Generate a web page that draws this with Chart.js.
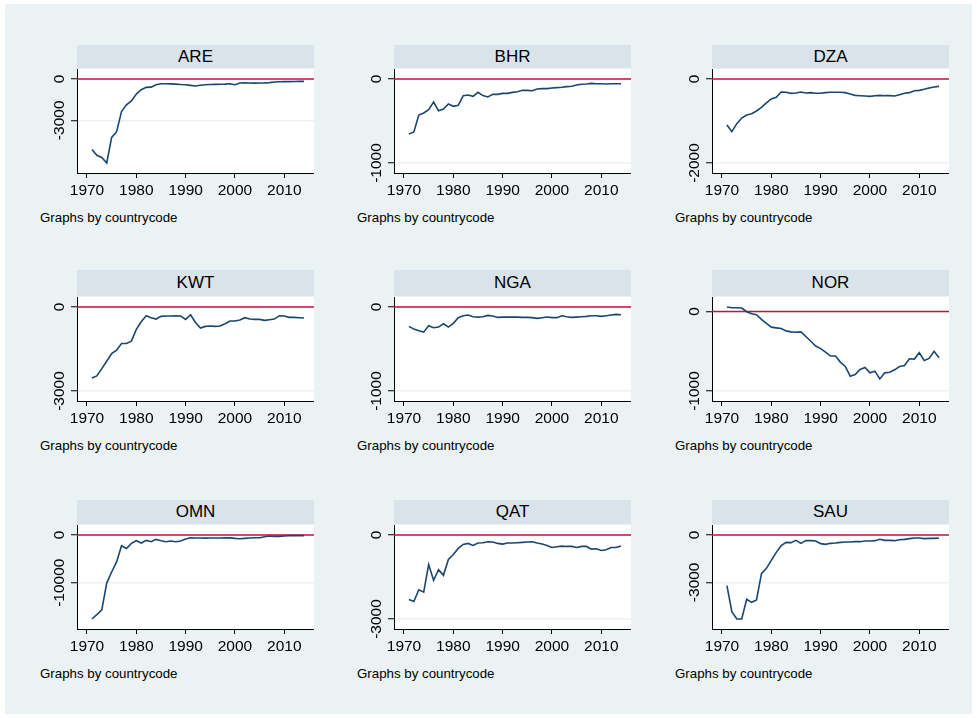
<!DOCTYPE html>
<html>
<head>
<meta charset="utf-8">
<script src="https://cdn.jsdelivr.net/npm/chart.js@4/dist/chart.umd.min.js"></script>
<style>
  html, body { margin: 0; padding: 0; background: #fff; }
  #page { position: relative; width: 977px; height: 718px; overflow: hidden; background: #fff;
          font-family: "Liberation Sans", Arial, Helvetica, sans-serif; }
  #region { position: absolute; left: 5px; top: 4px; width: 967px; height: 710px; background: #EAF2F3; }
  .band { position: absolute; background: #D9E3E9; color: #000; font-size: 17px; text-align: center; }
  .note { position: absolute; font-size: 13.3px; line-height: 15px; color: #000; white-space: nowrap; }
  canvas { position: absolute; }
</style>
</head>
<body>
<div id="page"><div id="region"></div></div>
<script>
// ---- data ----
const years = [1971, 1972, 1973, 1974, 1975, 1976, 1977, 1978, 1979, 1980,
               1981, 1982, 1983, 1984, 1985, 1986, 1987, 1988, 1989, 1990,
               1991, 1992, 1993, 1994, 1995, 1996, 1997, 1998, 1999, 2000,
               2001, 2002, 2003, 2004, 2005, 2006, 2007, 2008, 2009, 2010,
               2011, 2012, 2013, 2014];

const countries = ['ARE', 'BHR', 'DZA', 'KWT', 'NGA', 'NOR', 'OMN', 'QAT', 'SAU'];

const are = [-5120, -5540, -5700, -6100, -4240, -3830, -2370, -1880, -1590, -1100,
             -780, -610, -590, -415, -340, -350, -355, -370, -400, -420,
             -460, -510, -450, -420, -400, -390, -380, -370, -350, -415,
             -290, -270, -290, -300, -290, -280, -260, -220, -195, -190,
             -190, -180, -175, -170];
const bhr = [-655, -631, -429, -405, -365, -274, -377, -357, -298, -325,
             -313, -198, -190, -206, -159, -198, -214, -183, -183, -171,
             -171, -159, -151, -135, -135, -139, -119, -115, -115, -107,
             -103, -99, -91, -87, -71, -63, -60, -52, -56, -56,
             -60, -56, -56, -56];
const dza = [-1095, -1254, -1063, -929, -857, -825, -762, -675, -571, -476,
             -437, -310, -317, -341, -333, -310, -333, -325, -341, -341,
             -325, -317, -317, -317, -325, -357, -389, -397, -405, -413,
             -397, -389, -397, -397, -405, -373, -341, -325, -278, -270,
             -246, -214, -190, -175];
const kwt = [-2534, -2462, -2199, -1936, -1661, -1542, -1303, -1303, -1219, -801,
             -526, -311, -382, -430, -335, -323, -323, -311, -323, -442,
             -275, -550, -753, -693, -681, -693, -681, -598, -502, -502,
             -466, -382, -430, -442, -442, -478, -454, -430, -311, -323,
             -370, -370, -382, -394];
const nga = [-231, -263, -283, -299, -223, -247, -239, -199, -239, -195,
             -127, -104, -96, -116, -120, -116, -100, -108, -124, -120,
             -120, -120, -120, -124, -124, -127, -135, -127, -120, -127,
             -127, -104, -116, -124, -120, -116, -112, -104, -104, -112,
             -104, -96, -88, -92];
const nor = [55, 46, 46, 42, -4, -30, -42, -101, -152, -198,
             -207, -215, -245, -257, -262, -257, -316, -375, -435, -468,
             -511, -561, -561, -637, -692, -814, -793, -730, -705, -772,
             -751, -848, -772, -764, -734, -692, -679, -595, -599, -519,
             -616, -591, -502, -582];
const omn = [-17600, -16690, -15700, -10070, -7750, -5630, -2250, -2820, -1760, -1200,
             -1690, -1130, -1410, -915, -1200, -1410, -1270, -1410, -1270, -845,
             -563, -634, -634, -650, -640, -630, -620, -610, -600, -700,
             -775, -700, -634, -563, -563, -352, -211, -282, -282, -211,
             -141, -141, -141, -141];
const qat = [-2304, -2376, -1956, -2040, -1056, -1620, -1236, -1440, -876, -696,
             -480, -336, -300, -372, -288, -276, -240, -252, -300, -324,
             -288, -288, -276, -264, -252, -240, -288, -324, -372, -444,
             -420, -396, -408, -408, -444, -408, -408, -504, -492, -552,
             -528, -444, -444, -396];
const sau = [-3211, -4859, -5324, -5324, -4078, -4268, -4120, -2451, -2113, -1606,
             -1099, -676, -465, -486, -338, -528, -359, -359, -380, -549,
             -592, -528, -507, -465, -444, -444, -423, -423, -380, -380,
             -359, -275, -338, -338, -359, -296, -275, -232, -190, -190,
             -232, -211, -211, -190];

const xTicks = [1970, 1980, 1990, 2000, 2010];
const yTicksARE = [0, -3000];
const yTicksBHR = [0, -1000];
const yTicksDZA = [0, -2000];
const yTicksKWT = [0, -3000];
const yTicksNGA = [0, -1000];
const yTicksNOR = [0, -1000];
const yTicksOMN = [0, -10000];
const yTicksQAT = [0, -3000];
const yTicksSAU = [0, -3000];

const noteText = 'Graphs by countrycode';

const seriesList = [are, bhr, dza, kwt, nga, nor, omn, qat, sau];
const yTickList = [yTicksARE, yTicksBHR, yTicksDZA, yTicksKWT, yTicksNGA,
                   yTicksNOR, yTicksOMN, yTicksQAT, yTicksSAU];

// ---- layout ----
const FONT = '"Liberation Sans", Arial, Helvetica, sans-serif';
const COL_LEFT = [77, 394, 712];
const ROW_TOP = [69, 297, 525];
const BAND_TOP = [45, 270, 500];
const PLOT_W = 237;
const PLOT_H = 104;
const Y_AXIS_W = 45;
const X_AXIS_H = 34;
const INNER_MARGIN = 10;

const NAVY = '#1A476F';
const REF_RED = '#C8103C';
const GRID = '#EAF2F3';

// Axis range padded by a fixed pixel margin inside the plot region
function paddedRange(lo, hi, len) {
  const pad = (hi - lo) * INNER_MARGIN / (len - 2 * INNER_MARGIN);
  return [lo - pad, hi + pad];
}

const plotBackground = {
  id: 'plotBackground',
  beforeDraw(chart) {
    const a = chart.chartArea, ctx = chart.ctx;
    ctx.save();
    ctx.fillStyle = '#ffffff';
    ctx.fillRect(a.left, a.top, a.right - a.left, a.bottom - a.top);
    ctx.restore();
  }
};

const zeroLine = {
  id: 'zeroLine',
  beforeDatasetsDraw(chart) {
    const a = chart.chartArea, ctx = chart.ctx;
    const y = chart.scales.y.getPixelForValue(0);
    ctx.save();
    ctx.strokeStyle = REF_RED;
    ctx.lineWidth = 1.5;
    ctx.beginPath();
    ctx.moveTo(a.left, y);
    ctx.lineTo(a.right, y);
    ctx.stroke();
    ctx.restore();
  }
};

// Vertical (rotated) tick labels on the y axis
const rotatedYLabels = {
  id: 'rotatedYLabels',
  afterDraw(chart) {
    const s = chart.scales.y, ctx = chart.ctx, a = chart.chartArea;
    ctx.save();
    ctx.font = '15.5px ' + FONT;
    ctx.fillStyle = '#000';
    ctx.textAlign = 'center';
    ctx.textBaseline = 'alphabetic';
    s.ticks.forEach(t => {
      const y = s.getPixelForValue(t.value);
      ctx.save();
      ctx.translate(a.left - 13.5, y);
      ctx.rotate(-Math.PI / 2);
      ctx.fillText(String(t.value), 0, 0);
      ctx.restore();
    });
    ctx.restore();
  }
};

const page = document.getElementById('page');

countries.forEach((code, i) => {
  const col = i % 3, row = Math.floor(i / 3);
  const left = COL_LEFT[col], top = ROW_TOP[row];
  const vals = seriesList[i];
  const yt = yTickList[i];

  // title band
  const band = document.createElement('div');
  band.className = 'band';
  const bandH = top - 1 - BAND_TOP[row];
  band.style.left = left + 'px';
  band.style.top = BAND_TOP[row] + 'px';
  band.style.width = PLOT_W + 'px';
  band.style.height = bandH + 'px';
  band.style.lineHeight = bandH + 'px';
  band.textContent = code;
  page.appendChild(band);

  // note under the panel
  const note = document.createElement('div');
  note.className = 'note';
  note.style.left = (left - 37) + 'px';
  note.style.top = (top + 141) + 'px';
  note.textContent = noteText;
  page.appendChild(note);

  // chart canvas
  const cv = document.createElement('canvas');
  const cw = Y_AXIS_W + PLOT_W, ch = PLOT_H + X_AXIS_H;
  cv.width = cw; cv.height = ch;
  cv.style.width = cw + 'px'; cv.style.height = ch + 'px';
  cv.style.left = (left - Y_AXIS_W) + 'px';
  cv.style.top = top + 'px';
  page.appendChild(cv);

  const yLo = Math.min(...vals, ...yt), yHi = Math.max(...vals, ...yt);
  const [ymin, ymax] = paddedRange(yLo, yHi, PLOT_H);
  const xLo = Math.min(years[0], xTicks[0]);
  const xHi = Math.max(years[years.length - 1], xTicks[xTicks.length - 1]);
  const [xmin, xmax] = paddedRange(xLo, xHi, PLOT_W);

  new Chart(cv, {
    type: 'line',
    data: {
      datasets: [{
        label: code,
        data: years.map((yr, k) => ({ x: yr, y: vals[k] })),
        borderColor: NAVY,
        borderWidth: 1.6,
        pointRadius: 0,
        fill: false,
        tension: 0
      }]
    },
    options: {
      responsive: false,
      maintainAspectRatio: false,
      animation: false,
      devicePixelRatio: 1,
      layout: { padding: 0 },
      plugins: { legend: { display: false }, tooltip: { enabled: false }, title: { display: false } },
      scales: {
        x: {
          type: 'linear',
          min: xmin,
          max: xmax,
          afterBuildTicks: s => { s.ticks = xTicks.map(v => ({ value: v })); },
          afterFit: s => { s.height = X_AXIS_H; },
          grid: { drawOnChartArea: false, drawTicks: true, tickLength: 5, tickColor: '#000', color: '#000' },
          border: { display: true, color: '#000', width: 1 },
          ticks: {
            font: { family: FONT, size: 15.5 },
            color: '#000',
            padding: 3,
            minRotation: 0,
            maxRotation: 0,
            callback: v => String(v)
          }
        },
        y: {
          type: 'linear',
          min: ymin,
          max: ymax,
          afterBuildTicks: s => { s.ticks = yt.map(v => ({ value: v })); },
          afterFit: s => { s.width = Y_AXIS_W; },
          grid: { color: GRID, lineWidth: 1.5, drawTicks: true, tickLength: 6, tickColor: '#000', tickWidth: 1 },
          border: { display: true, color: '#000', width: 1 },
          ticks: { display: false }
        }
      }
    },
    plugins: [plotBackground, zeroLine, rotatedYLabels]
  });
});
</script>
</body>
</html>
